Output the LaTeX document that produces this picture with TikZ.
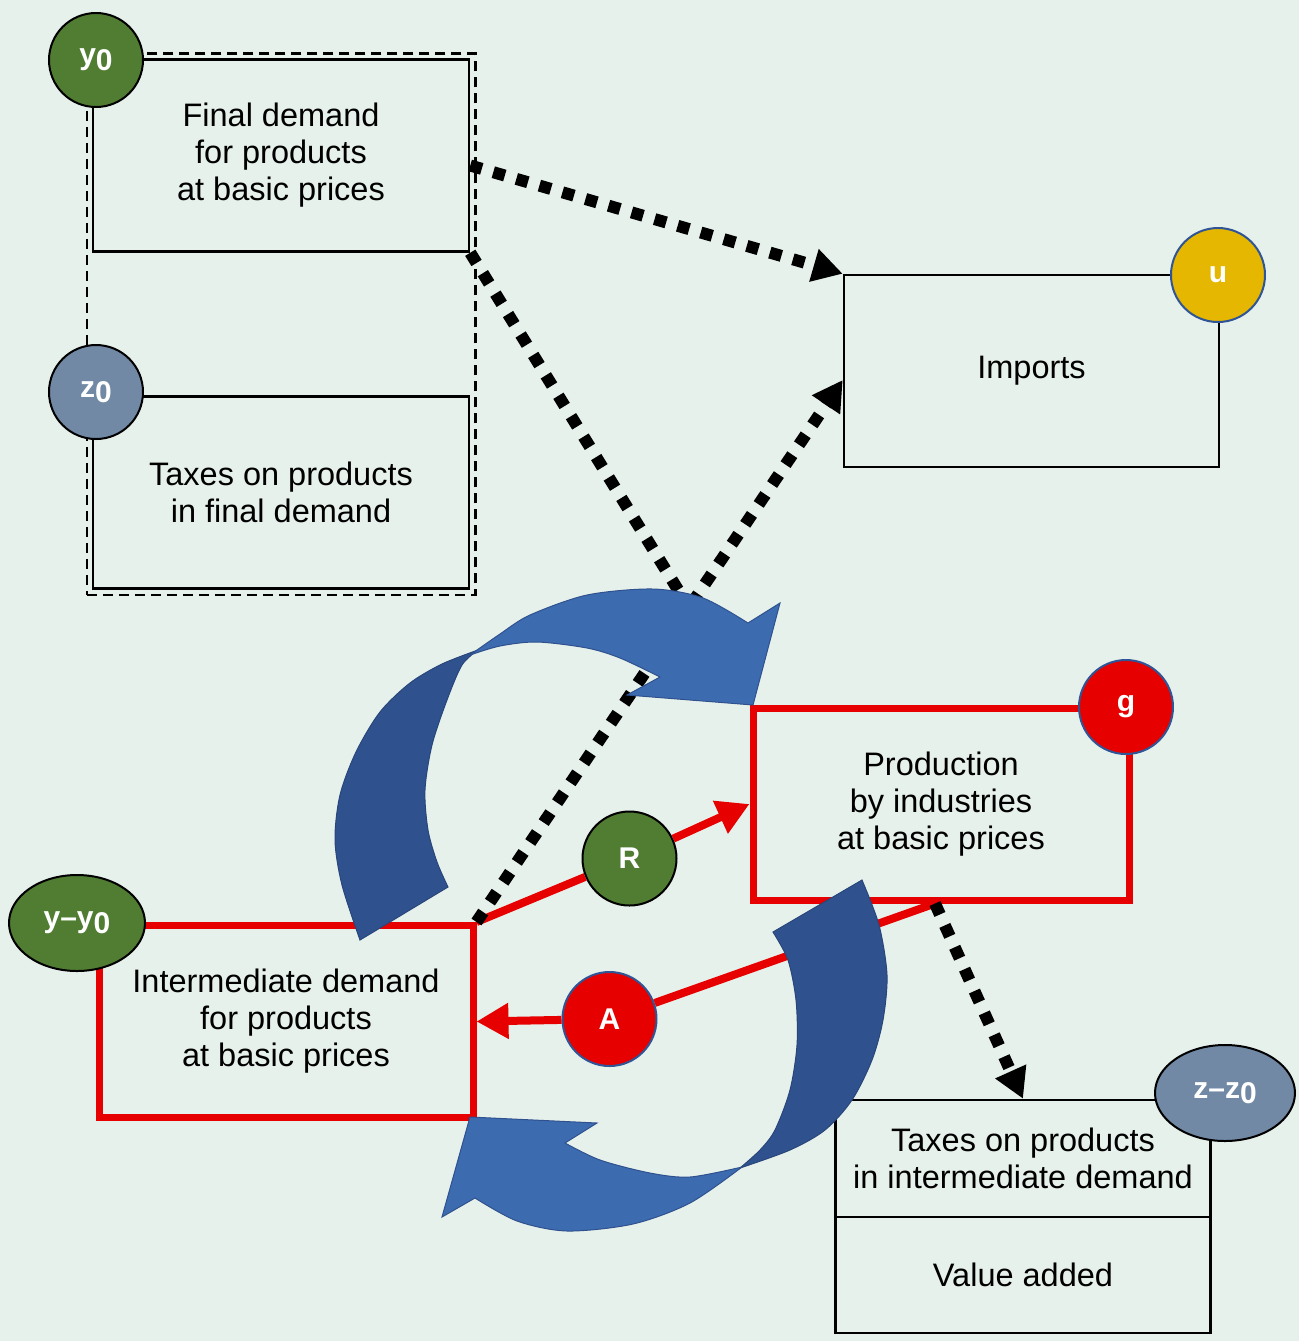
\documentclass[tikz,border=0pt]{standalone}
\usepackage{fontspec}
\setmainfont{Liberation Sans}
\usetikzlibrary{arrows.meta,shapes.geometric,fit}
\definecolor{bgmint}{HTML}{E7F1EB}
\definecolor{leafgreen}{HTML}{507D32}
\definecolor{slateblue}{HTML}{7189A5}
\definecolor{signalred}{HTML}{E60000}
\definecolor{gold}{HTML}{E5B700}
\definecolor{ringblue}{HTML}{2F5597}
\definecolor{bluelight}{HTML}{3D6BB0}
\definecolor{bluedark}{HTML}{2F528F}
\newcommand{\subzero}{\raisebox{-0.35ex}{0}}

\begin{document}
\begin{tikzpicture}
  [x=0.5pt,y=-0.5pt,
  box node/.style={rectangle,draw=black,line width=1.25pt,minimum width=188pt,
    minimum height=96pt,align=center,inner sep=0pt,
    font=\fontsize{16.25}{18.5}\selectfont},
  red box/.style={box node,draw=signalred,line width=3.5pt},
  value node/.style={circle,minimum size=47pt,inner sep=0pt,text=white,
    font=\fontsize{15}{15}\selectfont\bfseries,line width=1pt},
  value ellipse/.style={value node,ellipse,minimum width=68pt,minimum height=48pt},
  dotted arrow/.style={line width=6pt,dash pattern=on 6pt off 6pt,
    -{Triangle[length=15pt,width=16pt]}},
  red arrow/.style={draw=signalred,line width=4pt},
  red tip/.style={-{Triangle[length=16pt,width=17pt]}},
  ribbon dark/.style={fill=bluedark,draw=bluedark!85!black,line width=0.5pt},
  ribbon light/.style={fill=bluelight,draw=bluedark,line width=0.5pt}]

  \fill[bgmint] (0,0) rectangle (1299,1341);

  % boxes
  \node[box node] (fd) at (281,155.5) {Final demand\\for products\\at basic prices};
  \node[box node] (tfd) at (281,492.5) {Taxes on products\\in final demand};
  \node[draw,dash pattern=on 5pt off 3pt,line width=1.25pt,fit=(fd)(tfd),inner sep=2.5pt] (fdgroup) {};
  \node[box node,minimum width=187.5pt] (imp) at (1031.5,371) {Imports};
  \node[red box] (prod) at (941,804) {Production\\by industries\\at basic prices};
  \node[red box,minimum width=187pt] (inter) at (286,1021.5) {Intermediate demand\\for products\\at basic prices};
  \node[box node,minimum width=187.5pt,minimum height=58.5pt] (tii) at (1023,1158.5) {Taxes on products\\in intermediate demand};
  \node[box node,minimum width=187.5pt,minimum height=58pt] (va) at (1023,1275) {Value added};

  % values
  \node[value node,draw=black,fill=leafgreen] (y0) at (96,60) {y\subzero};
  \node[value node,draw=black,fill=slateblue] (z0) at (96,392) {z\subzero};
  \node[value node,draw=ringblue,fill=gold] (u) at (1218,275) {u};
  \node[value node,draw=ringblue,fill=signalred] (g) at (1126,707) {g};
  \node[value ellipse,draw=black,fill=leafgreen] (yy0) at (77,923) {y–y\subzero};
  \node[value ellipse,draw=black,fill=slateblue,minimum width=70pt] (zz0) at (1225,1093) {z–z\subzero};
  \node[value node,draw=black,fill=leafgreen] (R) at (629.5,858.5) {R};
  \node[value node,draw=ringblue,fill=signalred] (A) at (609.5,1019) {A};

  % flows
  \draw[red arrow] (inter.north east) -- (R);
  \draw[red arrow,red tip] (R) -- (prod.west);
  \draw[red arrow] ([xshift=-3pt]prod.south) -- (A);
  \draw[red arrow,red tip] (A) -- (inter.east);

  \draw[dotted arrow] ([yshift=-5pt]fd.east) -- (imp.north west);
  \draw[dotted arrow] (fd.south east) -- ([shift={(-1pt,1pt)}]prod.north west);
  \draw[dotted arrow] (inter.north east) -- ([yshift=-4.5pt]imp.west);
  \draw[dotted arrow] ([xshift=-3pt]prod.south) -- (tii.north);

  % circular arrows
  \path[ribbon dark] plot[smooth] coordinates {(360,940) (342,885) (335,840) (340,795) (356,752) (380,712) (410,683) (442,664) (478,650)}
    -- plot[smooth] coordinates {(478,650) (462,665) (447,700) (432,745) (425,790) (428,830) (437,862) (448,887)} -- cycle;
  \path[ribbon light] plot[smooth] coordinates {(470,655) (500,634) (530,615) (587,595) (653,589) (703,598) (748,623)}
    -- (780,603) -- (753,705) -- (627,695) -- (660,677)
    -- plot[smooth] coordinates {(660,677) (620,658) (587,648) (537,642) (500,646) (470,655)} -- cycle;

  \path[ribbon dark] (773,932) -- plot[smooth] coordinates {(862,880) (879,925) (887,975) (883,1020) (872,1060) (852,1100) (825,1130) (790,1150) (740,1168)}
    -- plot[smooth] coordinates {(740,1168) (760,1150) (775,1130) (790,1090) (797,1045) (796,1000) (788,960) (773,932)} -- cycle;
  \path[ribbon light] plot[smooth] coordinates {(742,1167) (690,1203) (633,1224) (567,1231) (517,1221) (475,1198)}
    -- (442,1217) -- (470,1117) -- (597,1123) -- (565,1143)
    -- plot[smooth] coordinates {(565,1143) (600,1160) (650,1173) (690,1177) (742,1167)} -- cycle;
\end{tikzpicture}
\end{document}
